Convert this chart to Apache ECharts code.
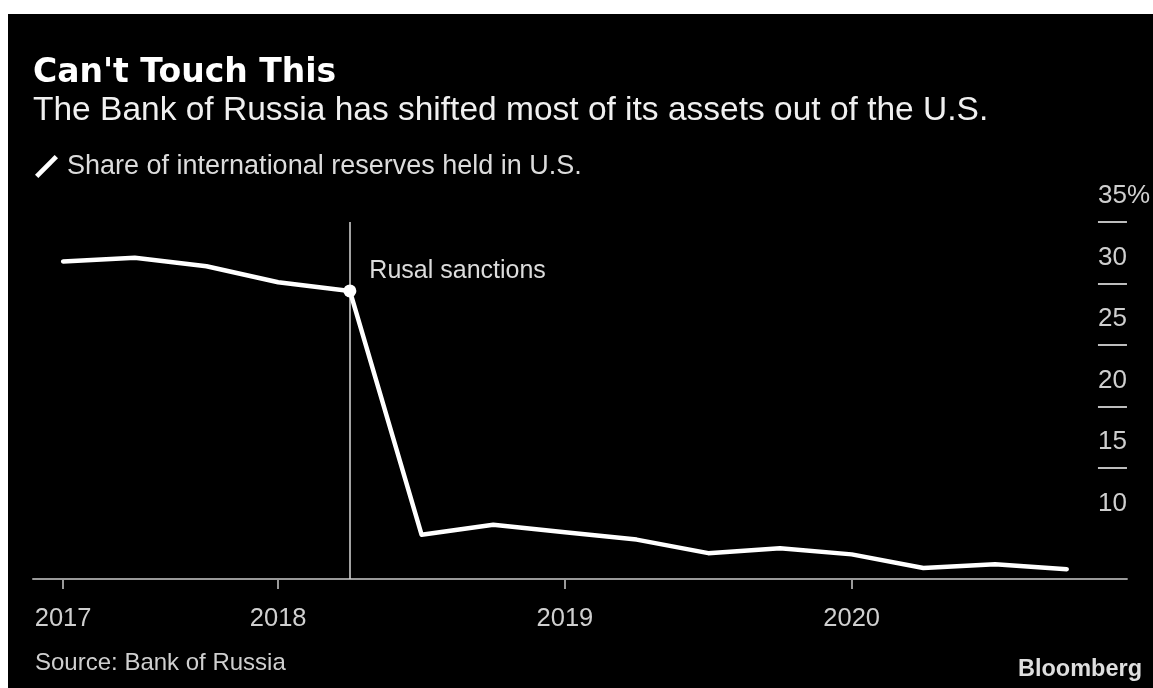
<!DOCTYPE html>
<html>
<head>
<meta charset="utf-8">
<script src="https://cdn.jsdelivr.net/npm/echarts@6/dist/echarts.min.js"></script>
<style>
html,body{margin:0;padding:0;background:#fff;}
#chart{width:1153px;height:688px;}
</style>
</head>
<body>
<div id="chart"></div>
<script>
// Quarterly observations (category axis)
const periods = ['2017 Q2','2017 Q3','2017 Q4','2018 Q1','2018 Q2','2018 Q3','2018 Q4',
                 '2019 Q1','2019 Q2','2019 Q3','2019 Q4','2020 Q1','2020 Q2','2020 Q3','2020 Q4'];
const usShare = [31.8, 32.1, 31.4, 30.1, 29.4, 9.6, 10.4, 9.8, 9.2, 8.1, 8.5, 8.0, 6.9, 7.2, 6.8];
const yearTickIndex = [0, 3, 7, 11];
const yearTickLabels = ['2017', '2018', '2019', '2020'];
const yLabelValues = [10, 15, 20, 25, 30, 35];
const yTickValues = [15, 20, 25, 30, 35];
const eventIndex = 4;
const eventLabel = 'Rusal sanctions';

const seriesData = usShare.map((v, i) => {
  if (i === eventIndex) {
    return {
      value: [i, v], symbol: 'circle', symbolSize: 13,
      itemStyle: {color: '#fff'},
      label: {show: true, position: 'right', distance: 13, offset: [0, -20],
        formatter: eventLabel, color: '#dcdcdc', fontFamily: 'Liberation Sans', fontSize: 25}
    };
  }
  return {value: [i, v], symbol: 'none'};
});

const chart = echarts.init(document.getElementById('chart'));
chart.setOption({
  backgroundColor: '#fff',
  animation: false,
  graphic: [
    {type: 'rect', z: -100, shape: {x: 8, y: 14, width: 1145, height: 674}, style: {fill: '#000'}},
    {type: 'text', x: 33, y: 73, style: {text: "Can't Touch This", fill: '#fff',
      font: 'bold 33px "DejaVu Sans"', verticalAlign: 'middle'}},
    {type: 'text', x: 33, y: 111, style: {text: 'The Bank of Russia has shifted most of its assets out of the U.S.',
      fill: '#f0f0f0', font: '33.5px "Liberation Sans"', verticalAlign: 'middle'}},
    {type: 'text', x: 35, y: 663, style: {text: 'Source: Bank of Russia', fill: '#cfcfcf',
      font: '24px "Liberation Sans"', verticalAlign: 'middle'}},
    {type: 'text', x: 1142, y: 670, style: {text: 'Bloomberg', fill: '#dedede',
      font: 'bold 23.5px "Liberation Sans"', verticalAlign: 'middle', align: 'right'}}
  ],
  legend: {
    left: 35, top: 153, padding: 0, itemWidth: 23, itemHeight: 23, itemGap: 10,
    icon: 'path://M0,20.5 L20.5,0 L24,3.5 L3.5,24 Z',
    textStyle: {color: '#dcdcdc', fontFamily: 'Liberation Sans', fontSize: 27, padding: [0, 0, 0, 4]},
    data: ['Share of international reserves held in U.S.']
  },
  grid: {left: 33, right: 26, top: 222, bottom: 109, containLabel: false},
  xAxis: {
    type: 'value', min: -0.42, max: 14.84,
    axisLine: {show: true, onZero: false, lineStyle: {color: '#9a9a9a', width: 2}},
    axisTick: {show: true, customValues: yearTickIndex, length: 10, lineStyle: {color: '#9a9a9a', width: 2}},
    axisLabel: {show: true, customValues: yearTickIndex, margin: 27,
      formatter: v => yearTickLabels[yearTickIndex.indexOf(Math.round(v))] || '',
      color: '#cfcfcf', fontFamily: 'Liberation Sans', fontSize: 25.5},
    splitLine: {show: false}
  },
  yAxis: {
    type: 'value', position: 'right', min: 6, max: 35,
    axisLine: {show: false, onZero: false},
    axisTick: {show: true, inside: true, customValues: yTickValues, length: 29,
      lineStyle: {color: '#bdbdbd', width: 2}},
    axisLabel: {show: true, inside: true, customValues: yLabelValues, align: 'left', margin: 29,
      verticalAlign: 'bottom', padding: [0, 0, 13, 0],
      formatter: v => (v === 35 ? '35%' : String(v)),
      color: '#cfcfcf', fontFamily: 'Liberation Sans', fontSize: 26},
    splitLine: {show: false}
  },
  series: [{
    name: 'Share of international reserves held in U.S.',
    type: 'line',
    data: seriesData,
    color: '#fff',
    lineStyle: {color: '#fff', width: 4.5, cap: 'round', join: 'round'},
    z: 5,
    markLine: {
      silent: true, symbol: 'none', label: {show: false},
      lineStyle: {color: '#d8d8d8', width: 1.5, type: 'solid'},
      data: [{xAxis: eventIndex}]
    }
  }]
});
</script>
</body>
</html>
